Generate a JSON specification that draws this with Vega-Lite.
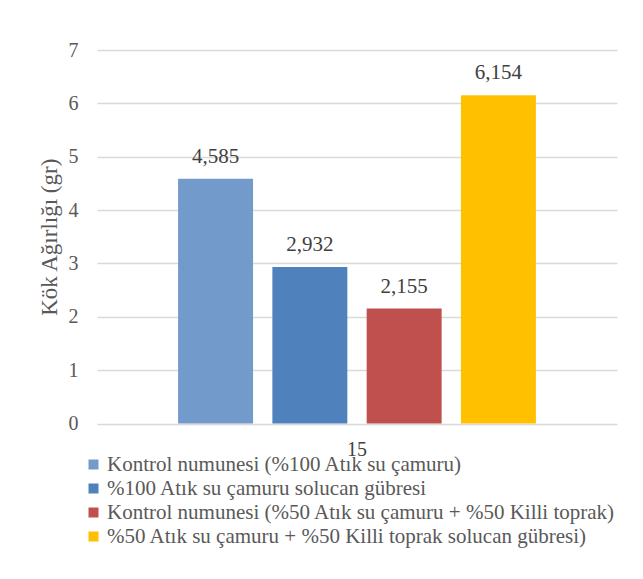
{
  "$schema": "https://vega.github.io/schema/vega-lite/v6.json",
  "autosize": {"type": "none"},
  "padding": {"left": 97, "top": 50, "right": 26, "bottom": 155.5},
  "width": 520,
  "height": 373.5,
  "background": "white",
  "data": {
    "values": [
      {"gun": "15", "seri": "Kontrol numunesi (%100 Atık su çamuru)", "agirlik": 4.585},
      {"gun": "15", "seri": "%100 Atık su çamuru solucan gübresi", "agirlik": 2.932},
      {"gun": "15", "seri": "Kontrol numunesi (%50 Atık su çamuru + %50 Killi toprak)", "agirlik": 2.155},
      {"gun": "15", "seri": "%50 Atık su çamuru + %50 Killi toprak solucan gübresi)", "agirlik": 6.154}
    ]
  },
  "encoding": {
    "x": {
      "field": "gun",
      "type": "nominal",
      "scale": {"paddingInner": 0, "paddingOuter": 0},
      "axis": {
        "title": null,
        "labelAngle": 0,
        "domain": false,
        "ticks": false,
        "tickSize": 0,
        "labelPadding": 16,
        "labelFontSize": 20,
        "labelColor": "#404040"
      }
    },
    "xOffset": {
      "field": "seri",
      "type": "nominal",
      "sort": null,
      "scale": {"paddingInner": 0.205, "paddingOuter": 0.86}
    },
    "y": {
      "field": "agirlik",
      "type": "quantitative",
      "scale": {"domain": [0, 7], "nice": false},
      "axis": {
        "title": "Kök Ağırlığı (gr)",
        "values": [0, 1, 2, 3, 4, 5, 6, 7],
        "format": "d",
        "domain": false,
        "ticks": false,
        "tickSize": 0,
        "labelPadding": 19,
        "labelFontSize": 20,
        "labelColor": "#595959",
        "titleFontSize": 23,
        "titleFontWeight": "normal",
        "titleColor": "#595959",
        "titlePadding": 7,
        "grid": true,
        "gridColor": "#d9d9d9",
        "gridWidth": 1.3
      }
    }
  },
  "layer": [
    {
      "mark": {"type": "bar"},
      "encoding": {
        "color": {
          "field": "seri",
          "type": "nominal",
          "sort": null,
          "scale": {
            "domain": [
              "Kontrol numunesi (%100 Atık su çamuru)",
              "%100 Atık su çamuru solucan gübresi",
              "Kontrol numunesi (%50 Atık su çamuru + %50 Killi toprak)",
              "%50 Atık su çamuru + %50 Killi toprak solucan gübresi)"
            ],
            "range": ["#729ACB", "#4F81BD", "#C0504D", "#FFC000"]
          },
          "legend": {
            "title": null,
            "orient": "none",
            "direction": "vertical",
            "legendX": -14,
            "legendY": 404,
            "padding": 0,
            "symbolType": "square",
            "symbolSize": 100,
            "symbolStrokeWidth": 0,
            "labelFontSize": 21,
            "labelColor": "#595959",
            "labelOffset": 3,
            "labelLimit": 700,
            "rowPadding": 2
          }
        }
      }
    },
    {
      "mark": {"type": "text", "baseline": "alphabetic", "dy": -16, "fontSize": 21, "color": "#404040"},
      "encoding": {
        "text": {"field": "agirlik", "type": "quantitative", "format": ".3f"}
      }
    }
  ],
  "config": {
    "font": "Times New Roman, Liberation Serif, DejaVu Serif, serif",
    "view": {"stroke": null},
    "locale": {
      "number": {"decimal": ",", "thousands": ".", "grouping": [3], "currency": ["", " ₺"]}
    }
  }
}
